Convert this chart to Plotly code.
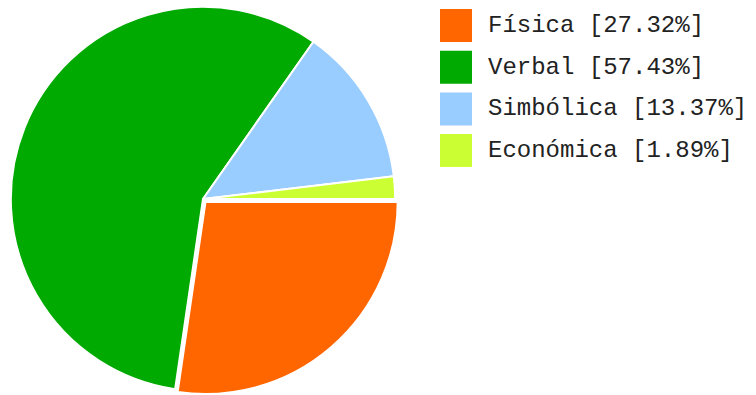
import plotly.graph_objects as go

# Share of each type, in percent
labels = ["Física", "Verbal", "Simbólica", "Económica"]
shares = [27.32, 57.43, 13.37, 1.89]
colors = ["#FF6600", "#00AA00", "#99CCFF", "#CCFF33"]
pulls = [0.02, 0, 0, 0]

W, H = 756, 395

fig = go.Figure(
    go.Pie(
        labels=labels,
        values=shares,
        sort=False,
        direction="clockwise",
        rotation=90,
        pull=pulls,
        marker=dict(colors=colors, line=dict(color="white", width=2)),
        textinfo="none",
        hoverinfo="label+percent",
        domain=dict(x=[0, 406 / W], y=[0, 392 / H]),
        showlegend=False,
    )
)

# Hand-drawn legend: coloured squares with monospace labels
row_top, row_pitch, box = 9, 41.7, 33
shapes, annotations = [], []
for i, (lab, val, col) in enumerate(zip(labels, shares, colors)):
    top = row_top + i * row_pitch
    shapes.append(dict(
        type="rect", xref="paper", yref="paper",
        x0=440 / W, x1=472 / W,
        y0=1 - (top + box) / H, y1=1 - top / H,
        fillcolor=col, line=dict(width=0),
    ))
    annotations.append(dict(
        xref="paper", yref="paper",
        x=486 / W, y=1 - (top + box / 2) / H,
        xanchor="left", yanchor="middle",
        text=f"{lab} [{val:.2f}%]", showarrow=False,
        font=dict(family="Courier New, Liberation Mono, monospace", size=24, color="#222222"),
    ))

fig.update_layout(
    width=W, height=H,
    margin=dict(l=0, r=0, t=0, b=0),
    paper_bgcolor="white", plot_bgcolor="white",
    shapes=shapes, annotations=annotations,
)

fig.write_html("out.html")
